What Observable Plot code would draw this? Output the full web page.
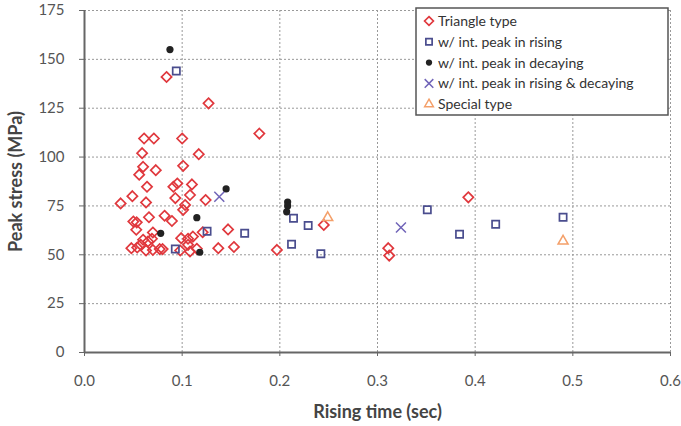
<!DOCTYPE html>
<html><head><meta charset="utf-8">
<script src="https://cdn.jsdelivr.net/npm/d3@7"></script>
<script src="https://cdn.jsdelivr.net/npm/@observablehq/plot@0.6"></script>
<style>
body{margin:0;background:#fff;}
#chart{width:681px;height:426px;}
g[aria-label="x-axis label"] text, g[aria-label="y-axis label"] text{font-weight:bold;font-size:18px;fill:#444;}
</style></head><body><div id="chart"></div>
<script>
const xTicks = [0, 0.1, 0.2, 0.3, 0.4, 0.5, 0.6];
const yTicks = [0, 25, 50, 75, 100, 125, 150, 175];
const seriesNames = ["Triangle type", "w/ int. peak in rising", "w/ int. peak in decaying", "w/ int. peak in rising & decaying", "Special type"];

const triangleTime = [0.084,0.127,0.179,0.061,0.071,0.100,0.059,0.117,0.060,0.101,0.056,0.073,0.064,0.091,0.095,0.110,0.049,0.093,0.108,0.124,0.037,0.063,0.103,0.101,0.066,0.082,0.0895,0.050,0.0535,0.053,0.070,0.147,0.137,0.153,0.106,0.111,0.099,0.106,0.115,0.108,0.098,0.048,0.054,0.060,0.065,0.069,0.063,0.070,0.077,0.080,0.0575,0.121,0.197,0.245,0.393,0.311,0.312];
const triangleStress = [141,127.5,112,109.5,109.5,109.5,102,101.5,95,95.5,91,93.3,84.8,84.8,86.5,86,80,79,80.6,78,76.3,76.8,75.5,73,69.2,70,67.3,67,66.6,62.8,61.4,63,53.4,54,58.2,59.3,58.5,55.1,53.1,51.7,52.2,53.4,53.7,57.7,56.8,58.2,52.2,52.5,52.9,52.9,55.1,61.5,52.5,65.3,79.4,53.4,49.6];

const risingTime = [0.094,0.093,0.1255,0.164,0.214,0.229,0.212,0.242,0.351,0.384,0.421,0.490];
const risingStress = [144,53,62,61,68.7,65,55.4,50.5,73,60.5,65.6,69.2];

const decayingTime = [0.0875,0.145,0.115,0.078,0.118,0.208,0.208,0.207];
const decayingStress = [155,83.7,69,61,51.3,77,75,72];

const bothTime = [0.138,0.324];
const bothStress = [79.7,64];

const specialTime = [0.249,0.490];
const specialStress = [69,57];

const styles = [
  {symbol: "diamond2", stroke: "#e0383d", fill: "none", r: 4.6, sw: 1.7},
  {symbol: "square2", stroke: "#4a4d8e", fill: "none", r: 4.6, sw: 1.7},
  {symbol: "circle", stroke: "none", fill: "#222", r: 3.6, sw: 0},
  {symbol: "times", stroke: "#7064b8", fill: "none", r: 4.6, sw: 1.5},
  {symbol: "triangle2", stroke: "#f4a06a", fill: "none", r: 4.8, sw: 1.5}
];

const mk = (ts, ss) => ts.map((t, i) => ({t, s: ss[i]}));
const series = [
  mk(triangleTime, triangleStress),
  mk(risingTime, risingStress),
  mk(decayingTime, decayingStress),
  mk(bothTime, bothStress),
  mk(specialTime, specialStress)
];

const W = 681, H = 426, mL = 84, mR = 11, mT = 10, mB = 74;

const plot = Plot.plot({
  width: W, height: H,
  marginLeft: mL, marginRight: mR, marginTop: mT, marginBottom: mB,
  style: {fontFamily: "Lato", fontSize: "15px", color: "#555", background: "#fff"},
  x: {domain: [0, 0.6]},
  y: {domain: [0, 175]},
  marks: [
    Plot.gridX(xTicks, {stroke: "#999", strokeOpacity: 1, strokeDasharray: "2,2", strokeWidth: 1}),
    Plot.gridY(yTicks, {stroke: "#999", strokeOpacity: 1, strokeDasharray: "2,2", strokeWidth: 1}),
    Plot.axisX(xTicks, {tickFormat: d3.format(".1f"), tickSize: 4, tickPadding: 19, stroke: "#666",
      label: "Rising time (sec)", labelAnchor: "center", labelArrow: "none", labelOffset: 65}),
    Plot.axisY(yTicks, {tickSize: 5, tickPadding: 15, stroke: "#666",
      label: "Peak stress (MPa)", labelAnchor: "center", labelArrow: "none", labelOffset: 75}),
    Plot.ruleX([0], {stroke: "#666", strokeWidth: 2}),
    Plot.ruleY([0], {stroke: "#666", strokeWidth: 2}),
    ...series.map((data, i) => Plot.dot(data, {
      x: "t", y: "s", symbol: () => styles[i].symbol, r: styles[i].r,
      stroke: styles[i].stroke, fill: styles[i].fill, strokeWidth: styles[i].sw
    }))
  ]
});

// Legend (inside plot frame, top-right)
const svg = d3.select(plot);
const lg = svg.append("g").attr("transform", "translate(416,8)");
lg.append("rect").attr("x", 0).attr("y", 0).attr("width", 252).attr("height", 107)
  .attr("fill", "#fff").attr("stroke", "#555").attr("stroke-width", 1.5);
const symMap = {diamond2: d3.symbolDiamond2, square2: d3.symbolSquare2, circle: d3.symbolCircle, times: d3.symbolTimes, triangle2: d3.symbolTriangle2};
seriesNames.forEach((name, i) => {
  const y = 13 + i * 20.8;
  const st = styles[i];
  lg.append("path")
    .attr("d", d3.symbol(symMap[st.symbol], Math.PI * st.r * st.r * 0.75)())
    .attr("transform", `translate(13,${y})`)
    .attr("fill", st.fill).attr("stroke", st.stroke).attr("stroke-width", st.sw);
  lg.append("text").attr("x", 22).attr("y", y).attr("dy", "0.35em")
    .attr("text-anchor", "start")
    .attr("font-family", "Lato").attr("font-size", 14).attr("fill", "#333").text(name);
});

document.getElementById("chart").append(plot);
</script></body></html>
